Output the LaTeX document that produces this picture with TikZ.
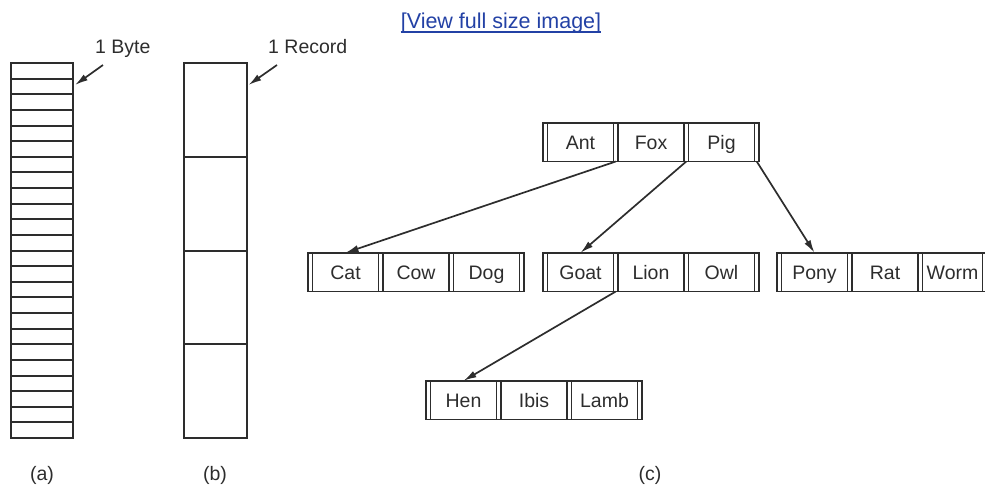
\documentclass[tikz,border=0pt]{standalone}
\usepackage{fontspec}
\setmainfont{Liberation Sans}
\usetikzlibrary{arrows.meta}
\definecolor{ink}{RGB}{45,45,45}
\definecolor{linkblue}{RGB}{35,65,165}
\newcommand{\btreenode}[7]{%
  \draw[frame] (#2,#3) rectangle ++({150+#7},-38.5);
  \foreach \xx in {4.5,70.5,75,141,145.5}{\draw[frame, line width=1.5pt] ({#2+\xx},#3) -- ++(0,-38.5);}
  \draw[frame, line width=1.5pt] ({#2+145.5+#7},#3) -- ++(0,-38.5);
  \node[key] (#1-1) at ({#2+37.5},{#3-19.25}) {#4};
  \node[key] (#1-2) at ({#2+108},{#3-19.25}) {#5};
  \node[key, minimum width={#7pt}] (#1-3) at ({#2+145.5+#7/2},{#3-19.25}) {#6};
  \coordinate (#1-p0) at ({#2+2.25},{#3-38.5});
  \coordinate (#1-p1) at ({#2+72.75},{#3-38.5});
  \coordinate (#1-p2) at ({#2+143.25},{#3-38.5});
  \coordinate (#1-p3) at ({#2+147.75+#7},{#3-38.5});
}
\begin{document}
\begin{tikzpicture}[x=1pt,y=1pt,
  frame/.style={draw=ink, line width=1.9pt},
  key/.style={minimum width=66pt, minimum height=38.5pt, inner sep=0pt, text height=14pt, text depth=0pt, font=\fontsize{19.5}{20}\selectfont, text=ink},
  lab/.style={font=\fontsize{19.5}{20}\selectfont, text=ink, inner sep=0pt},
  ptr/.style={draw=ink, line width=1.7pt, -{Latex[length=13pt,width=7pt]}}]
\useasboundingbox (0,0) rectangle (985,-488);

% link
\node[anchor=base, inner sep=0pt, font=\fontsize{21.5}{22}\selectfont, text=linkblue] (link) at (501,-28) {[View full size image]};
\draw[linkblue, line width=1.3pt] ([yshift=-4pt]link.base west) -- ([yshift=-4pt]link.base east);

% (a) bytes
\node[frame, minimum width=62pt, minimum height=375pt, inner sep=0pt] (colA) at (42,-250.5) {};
\foreach \i in {1,...,23} \draw[frame, line width=2pt] (11,{-round(63+\i*15.625)}) -- (73,{-round(63+\i*15.625)});
\node[lab, anchor=base west] (byte) at (95,-53) {1 Byte};
\coordinate (bytefrom) at (103,-65);
\coordinate (byteto) at (75,-85);
\draw[ptr] (bytefrom) -- (byteto);

% (b) records
\node[frame, minimum width=63pt, minimum height=375pt, inner sep=0pt] (colB) at (215.5,-250.5) {};
\foreach \yy in {157,251,344} \draw[frame, line width=2pt] (184,-\yy) -- (247,-\yy);
\node[lab, anchor=base west] (record) at (268,-53) {1 Record};
\coordinate (recfrom) at (277,-65);
\coordinate (recto) at (248.5,-85);
\draw[ptr] (recfrom) -- (recto);

% (c) tree
\btreenode{top}{543}{-123}{Ant}{Fox}{Pig}{66}
\btreenode{cat}{308}{-253}{Cat}{Cow}{Dog}{66}
\btreenode{goat}{543}{-253}{Goat}{Lion}{Owl}{66}
\btreenode{pony}{777}{-253}{Pony}{Rat}{Worm}{60}
\btreenode{hen}{426}{-381}{Hen}{Ibis}{Lamb}{66}

\draw[ptr] (top-p1) -- (cat-1.north);
\draw[ptr] (top-p2) -- (goat-1.north);
\draw[ptr] (top-p3) -- (pony-1.north);
\draw[ptr] (goat-p1) -- (hen-1.north);

% captions
\node[lab, anchor=base] (capa) at (42,-480) {(a)};
\node[lab, anchor=base] (capb) at (215,-480) {(b)};
\node[lab, anchor=base] (capc) at (650,-480) {(c)};
\end{tikzpicture}
\end{document}
